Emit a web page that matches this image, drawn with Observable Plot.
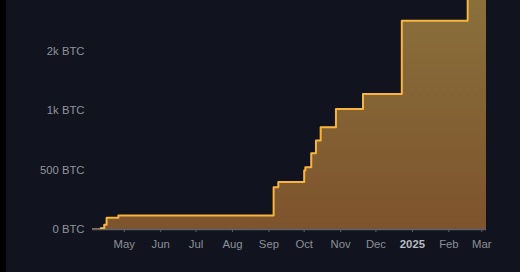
<!DOCTYPE html>
<html>
<head>
<meta charset="utf-8">
<script src="https://cdn.jsdelivr.net/npm/d3@7"></script>
<script src="https://cdn.jsdelivr.net/npm/@observablehq/plot@0.6"></script>
<style>
  html, body { margin: 0; padding: 0; background: #11141e; width: 520px; height: 272px; overflow: hidden; }
  #wrap { position: relative; width: 520px; height: 272px; }
  #strip { position: absolute; left: 0; top: 0; width: 6px; height: 272px; background: #000; }
  svg { display: block; }
</style>
</head>
<body>
<div id="wrap"><div id="chart"></div><div id="strip"></div></div>
<script>
// Step dates and cumulative holdings (BTC)
const dates = ["2024-04-04","2024-04-11","2024-04-14","2024-04-16","2024-04-26","2024-09-05","2024-09-09","2024-10-01","2024-10-02","2024-10-07","2024-10-11","2024-10-15","2024-10-28","2024-11-20","2024-12-23","2025-02-17","2025-03-05"];
const holdings = [0, 10, 40, 98, 118, 355, 400, 496, 524, 641, 748, 860, 1014, 1140, 1756, 2300, 2300];

// Axis ticks and labels
const xTickDates = ["2024-05-01","2024-06-01","2024-07-01","2024-08-01","2024-09-01","2024-10-01","2024-11-01","2024-12-01","2025-01-01","2025-02-01","2025-03-01"];
const xTickLabels = ["May","Jun","Jul","Aug","Sep","Oct","Nov","Dec","2025","Feb","Mar"];
const yTicks = [0, 500, 1000, 1500];
const yTickLabels = ["0 BTC","500 BTC","1k BTC","2k BTC"];

const data = dates.map((d, i) => ({date: new Date(d), btc: holdings[i]}));
const xTicks = xTickDates.map(d => new Date(d));
const xLabelOf = new Map(xTicks.map((d, i) => [+d, xTickLabels[i]]));
const yLabelOf = new Map(yTicks.map((v, i) => [v, yTickLabels[i]]));
const first = data[0].date, last = data[data.length - 1].date;

const chart = Plot.plot({
  width: 520,
  height: 272,
  marginLeft: 92,
  marginRight: 34,
  marginTop: 0,
  marginBottom: 43,
  style: {background: "#11141e", fontFamily: "'Liberation Sans', Arial, sans-serif", fontSize: "11.3px"},
  x: {type: "utc", domain: [first, last], label: null},
  y: {domain: [0, 1927], label: null},
  marks: [
    () => {
      const ns = "http://www.w3.org/2000/svg";
      const defs = document.createElementNS(ns, "defs");
      defs.innerHTML = `<linearGradient id="gold" gradientUnits="userSpaceOnUse" x1="0" y1="0" x2="0" y2="229">
        <stop offset="0" stop-color="#89703b"/>
        <stop offset="1" stop-color="#7e532d"/>
      </linearGradient>`;
      return defs;
    },
    Plot.areaY(data, {x: "date", y: "btc", curve: "step-after", fill: "url(#gold)", clip: true}),
    Plot.ruleX([last], {y1: 0, y2: holdings[holdings.length - 1], stroke: "#4a4a4a", strokeWidth: 1, clip: true}),
    Plot.ruleY([0], {x1: first, x2: last, stroke: "#5d616b", strokeWidth: 1.5}),
    Plot.lineY(data, {x: "date", y: "btc", curve: "step-after", stroke: "#f8b43e", strokeWidth: 2, clip: true}),
    Plot.axisX(xTicks, {tickFormat: d => xLabelOf.get(+d), tickSize: 3, tickPadding: 7, color: "#8b8f98", label: null}),
    Plot.axisY(yTicks, {tickFormat: v => yLabelOf.get(v), tickSize: 0, tickPadding: 8, color: "#8f939c", label: null})
  ]
});

chart.querySelectorAll('[aria-label="x-axis tick"] path, [aria-label="x-axis tick"]').forEach(el => {
  el.setAttribute("stroke", "#5d616b");
});
chart.querySelectorAll('[aria-label="x-axis tick label"] text').forEach(t => {
  if (t.textContent === "2025") { t.setAttribute("font-weight", "bold"); t.setAttribute("fill", "#b9bcc4"); }
});
document.getElementById("chart").appendChild(chart);
</script>
</body>
</html>
